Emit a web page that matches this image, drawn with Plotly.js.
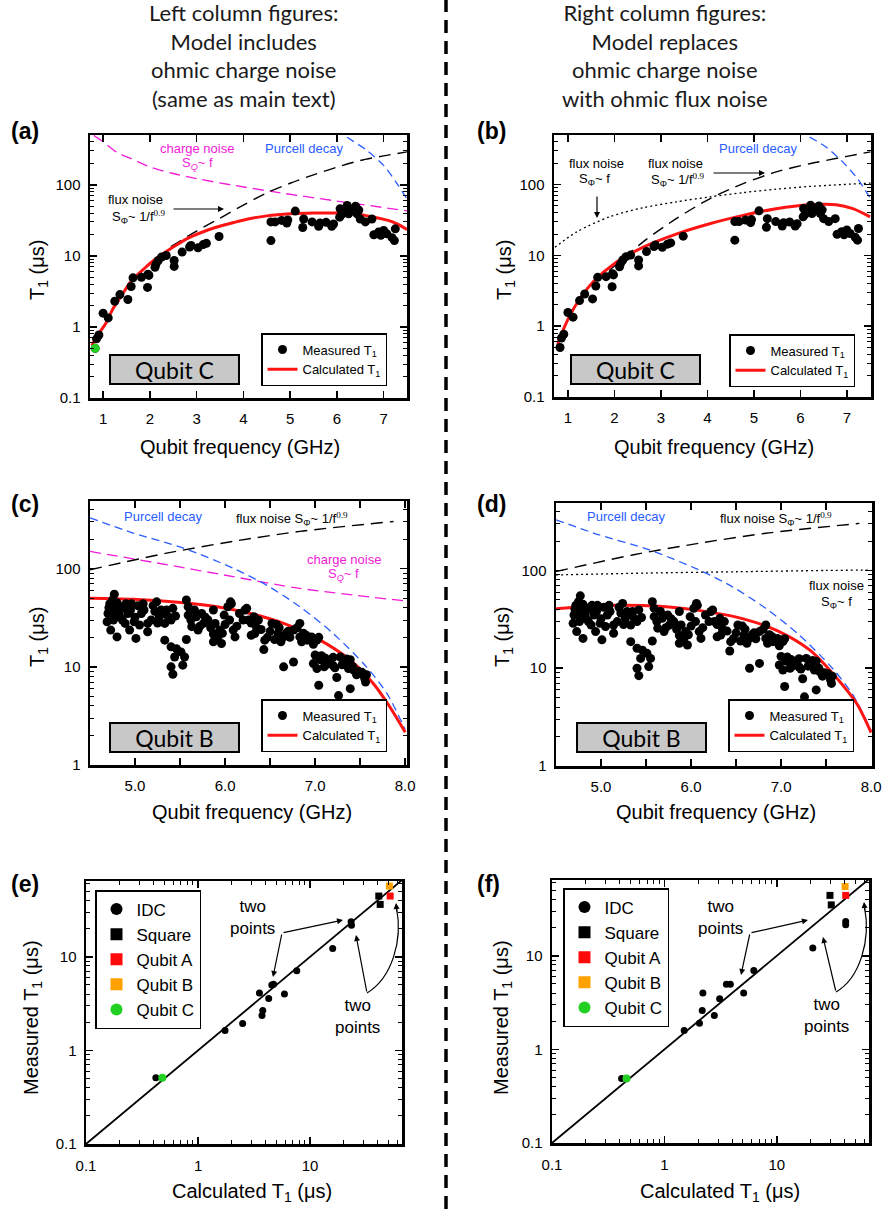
<!DOCTYPE html>
<html>
<head>
<meta charset="utf-8">
<script src="https://cdn.plot.ly/plotly-3.0.1.min.js"></script>
<style>
  html, body { margin: 0; padding: 0; background: #fff; }
  #fig { width: 886px; height: 1209px; }
</style>
</head>
<body>
<div id="fig"></div>
<script>
// ---------- Qubit C: measured T1 vs frequency (GHz, µs) ----------
const qcF = [0.83, 0.86, 0.91, 1.00, 1.11, 1.25, 1.36, 1.53, 1.60, 1.64, 1.82, 1.95, 1.96, 1.98, 2.11, 2.13, 2.18, 2.25, 2.35, 2.52, 2.52, 2.69, 2.85, 2.88, 3.03, 3.14, 3.21, 3.48,
             4.59, 4.59, 4.68, 4.82, 4.93, 4.95, 5.11, 5.27, 5.29, 5.47, 5.61, 5.64, 5.77, 5.89, 5.93, 6.06, 6.07, 6.10, 6.17, 6.22, 6.25, 6.30, 6.40, 6.43, 6.47, 6.50, 6.61, 6.75, 6.79, 6.89, 6.94, 7.00, 7.07, 7.18, 7.23, 7.25];
const qcT = [0.50, 0.68, 0.77, 1.56, 1.34, 2.3, 2.85, 2.43, 3.7, 4.9, 5.0, 3.6, 5.5, 5.3, 6.9, 7.6, 8.6, 9.6, 10.1, 8.6, 7.1, 11.3, 13.3, 14, 13, 14.4, 15, 18.7,
             16.4, 30, 30, 31.5, 29, 32, 42.6, 25, 33, 30, 26, 29, 29.6, 26, 28, 35, 46, 38, 41, 51, 39, 45, 50, 39, 44, 33, 30, 33, 19.8, 21.6, 19.5, 22.8, 20.4, 18, 16.4, 24];

// Model curves, left column (a)
const aCalcF = [0.76, 0.85, 0.95, 1.05, 1.2, 1.4, 1.6, 1.9, 2.1, 2.5, 2.8, 3.1, 3.4, 3.8, 4.1, 4.5, 5.0, 5.5, 6.0, 6.5, 6.8, 7.1, 7.3, 7.5];
const aCalcT = [0.55, 0.70, 0.88, 1.1, 1.75, 2.8, 4.4, 6.8, 8.8, 13.3, 17.5, 21.3, 25, 29.5, 33, 36.5, 39, 40, 40, 38, 35, 31.5, 28, 23.5];
const aFluxF = [2.45, 3.0, 3.5, 4.0, 4.5, 5.0, 5.5, 6.0, 6.5, 7.0, 7.5];
const aFluxT = [13.5, 22.3, 33.8, 51.7, 77, 105, 138, 177, 219, 255, 290];
const aChargeF = [0.8, 1.0, 1.3, 1.6, 2.0, 2.5, 3.0, 3.8, 4.9, 6.0, 7.5];
const aChargeT = [495, 404, 285, 233, 178, 144, 122, 98, 75, 59, 43];
const aPurcellF = [6.0, 6.11, 6.64, 7.0, 7.29, 7.5];
const aPurcellT = [600, 520, 305, 187, 103, 63];

// Model curves, right column (b)
const bCalcF = [0.78, 0.82, 1.04, 1.25, 1.54, 2.04, 2.61, 3.33, 4.05, 4.77, 5.48, 6.2, 6.77, 7.13, 7.5];
const bCalcT = [0.55, 0.66, 1.41, 2.4, 4.2, 8, 13, 20, 28, 36.7, 45.7, 52, 52, 45.7, 35];
const bFluxF = [1.89, 2.61, 3.33, 4.05, 4.77, 5.48, 6.2, 7.0, 7.51];
const bFluxT = [6.1, 15.4, 33, 63, 103, 151, 197, 250, 290];
const bOhmicFluxF = [0.72, 1.18, 1.89, 2.61, 3.33, 4.05, 4.77, 5.48, 6.2, 7.51];
const bOhmicFluxT = [13, 21.3, 35, 47, 57, 67, 77, 86, 94, 105];
const bPurcellF = [5.98, 6.09, 6.55, 6.91, 7.23, 7.51];
const bPurcellT = [600, 520, 340, 209, 121, 63];

// ---------- Qubit B: measured T1 vs frequency ----------
const qbF = [4.77, 4.72, 4.70, 4.69, 4.73, 4.80, 4.77, 4.83, 4.85, 4.90, 4.96, 4.92, 4.89, 4.94, 5.01, 4.99, 5.05, 5.09, 5.07, 5.14, 5.14, 5.24, 5.22, 5.27, 5.29, 5.33, 5.37, 5.42,
             5.33, 5.40, 5.46, 5.44, 5.51, 5.40, 5.42, 5.53, 5.55, 5.57, 5.57, 5.59, 5.59, 5.63, 5.68, 5.74, 5.76, 5.70, 5.81, 5.87, 5.87, 5.89, 5.87, 5.96, 5.94, 5.99, 6.07, 6.03,
             6.09, 6.11, 6.16, 6.22, 6.26, 6.29,
             6.32, 6.37, 6.33, 6.44, 6.43, 6.52, 6.57, 6.59, 6.65, 6.65, 6.76, 6.70, 6.76, 6.83, 6.83, 6.87, 6.91, 6.96, 7.02, 7.00, 6.98, 7.02, 7.06, 7.11, 7.13, 7.17,
             7.04, 7.24, 7.26, 7.28, 7.33, 7.37, 7.39, 7.43, 7.46, 7.52, 7.56, 7.57, 7.39, 7.20, 7.04, 7.07,
             4.75, 4.80, 4.74, 4.78, 4.71, 4.76, 4.82, 4.86, 4.88, 4.95, 5.00, 5.03, 5.10, 5.18, 5.20, 5.25, 5.30, 5.35, 5.40, 5.45, 5.62, 5.66, 5.72, 5.78, 5.84, 5.92, 5.97,
             6.00, 6.05, 6.13, 6.20, 6.24, 6.06, 6.29, 6.35, 6.40, 6.47, 6.50, 6.55, 6.60, 6.62, 6.68, 6.72, 6.80, 6.85, 6.90, 6.98, 7.05, 7.10, 7.15, 7.20, 7.22, 7.30, 7.35,
             7.42, 7.48, 7.52, 7.55];
const qbT = [55, 44, 35, 28.8, 23.7, 20.2, 38, 32.4, 41, 44, 44, 35, 27.7, 23.7, 19.5, 28.8, 26.7, 44, 35, 27.7, 22.8, 46, 36.7, 32.4, 38, 27.7, 32.4, 39.5,
             18.7, 16, 15.3, 12.6, 14.2, 10, 8.4, 10.4, 12.6, 19.0, 48, 41, 33.7, 25.7, 32.4, 35, 27.7, 23.7, 30, 38, 21.6, 27.7, 18, 17.3, 23.7, 33.7, 44, 41,
             23.7, 20.2, 35, 38, 30, 21,
             32.4, 30, 21.9, 18.7, 15, 27.7, 27, 21.9, 20.2, 10, 11.2, 23, 23.7, 27.7, 20.2, 22, 18.7, 20.2, 18.7, 13.2, 10.8, 9.6, 11.8, 12.3, 10.6, 11.8,
             6.5, 7.8, 5.1, 12.6, 11.2, 9.6, 6.0, 9.2, 8.3, 8.5, 7.0, 8.3, 11.8, 10.3, 20, 13,
             48, 45, 38, 32, 40, 30, 36, 30, 40, 38, 32, 42, 38, 30, 42, 28, 35, 38, 30, 33, 30, 38, 26, 32, 25, 20, 22,
             27, 30, 26, 30, 39.5, 46, 28, 25, 24, 20, 23, 19, 25, 18, 22, 20, 25, 18, 21, 17, 12, 10, 11, 12.5, 9.8, 10.5, 12,
             10, 9, 8.8, 7.6];

// Model curves for Qubit B
const cCalcF = [4.5, 4.98, 5.54, 5.91, 6.28, 6.65, 7.02, 7.39, 7.65, 7.83, 8.0];
const cCalcT = [50, 48.8, 45, 41, 35, 27.7, 19.5, 11.7, 6.7, 3.9, 2.16];
const dCalcF = [4.5, 5.1, 5.65, 6.21, 6.58, 6.95, 7.32, 7.61, 7.84, 8.0];
const dCalcT = [40.6, 44, 43, 37.5, 32, 24.4, 15.3, 8.1, 4.36, 2.2];
const qbPurcellF = [4.5, 4.98, 5.54, 6.09, 6.46, 6.83, 7.2, 7.57, 7.8, 8.0];
const qbPurcellT = [330, 231, 162, 101, 68, 41, 21.9, 10, 5.3, 2.3];
const qbFluxF = [4.5, 5.35, 6.09, 6.83, 7.87];
const qbFluxT = [97.5, 144, 190, 240, 303];
const cChargeF = [4.5, 5.35, 6.09, 6.83, 8.0];
const cChargeT = [150, 110, 83, 63, 47];
const dOhmicFluxF = [4.5, 5.5, 6.5, 7.5, 8.0];
const dOhmicFluxT = [90, 94, 97, 100, 101];

// ---------- Measured vs calculated T1 (µs) ----------
const eIdcCalc = [0.42, 1.74, 2.5, 3.53, 3.78, 3.72, 4.27, 4.55, 4.72, 5.9, 7.6, 15.9, 23.2, 23.4];
const eIdcMeas = [0.51, 1.63, 1.94, 4.1, 2.67, 2.36, 3.58, 5.0, 5.1, 4.0, 7.1, 12.3, 23.7, 21.8];
const eSqCalc = [41, 42.2], eSqMeas = [44.6, 36.3];
const eACalc = [51.8], eAMeas = [44.6];
const eBCalc = [51], eBMeas = [57];
const eCCalc = [0.48], eCMeas = [0.51];

const fIdcCalc = [0.416, 1.5, 2.05, 2.2, 2.17, 2.78, 3.1, 3.56, 3.86, 5.07, 6.24, 20.9, 41, 41];
const fIdcMeas = [0.49, 1.59, 1.9, 4.0, 2.6, 2.3, 3.47, 4.98, 4.98, 4.0, 6.97, 12.1, 23.3, 21.5];
const fSqCalc = [29.7, 30.5], fSqMeas = [44.2, 35];
const fACalc = [41], fAMeas = [44.2];
const fBCalc = [40.5], fBMeas = [55];
const fCCalc = [0.46], fCMeas = [0.49];

const unityLine = [0.1, 70];

// ---------- tick labels ----------
const fTicksC = [1, 2, 3, 4, 5, 6, 7];
const fTickTextC = ['1', '2', '3', '4', '5', '6', '7'];
const fTicksB = [5, 5.5, 6, 6.5, 7, 7.5, 8];
const fTickTextB = ['5.0', '', '6.0', '', '7.0', '', '8.0'];

// ---------- styling ----------
const W = 886, H = 1209;
const px = x => x / W, py = y => 1 - y / H;
const FONT = 'Liberation Sans, Arial, sans-serif';
const HUM = 'Lato, Open Sans, sans-serif';
const RED = '#ff1414', BLUE = '#2a5cff', MAG = '#f21bd8';
const DASH_CHARGE = '11px,6px', DASH_FLUX = '12px,7px', DASH_PURCELL = '8px,5px', DOT = '2px,3px';

function curve(x, y, xa, ya, color, width, dash, legend) {
  return { type: 'scatter', mode: 'lines', x, y, xaxis: xa, yaxis: ya, legend,
           line: { color, width, dash, shape: 'spline', smoothing: 0.8 },
           showlegend: false, hoverinfo: 'skip' };
}
function measured(x, y, xa, ya, legend) {
  return { type: 'scatter', mode: 'markers', x, y, xaxis: xa, yaxis: ya, legend,
           name: 'Measured T<sub>1</sub>', legendrank: 1,
           marker: { color: 'black', size: 9 }, hoverinfo: 'skip' };
}
function calculated(x, y, xa, ya, legend) {
  return { type: 'scatter', mode: 'lines', x, y, xaxis: xa, yaxis: ya, legend,
           name: 'Calculated T<sub>1</sub>', legendrank: 2,
           line: { color: RED, width: 3, shape: 'spline', smoothing: 0.8 }, hoverinfo: 'skip' };
}
function pts(x, y, xa, ya, legend, name, symbol, color, size) {
  return { type: 'scatter', mode: 'markers', x, y, xaxis: xa, yaxis: ya, legend, name,
           marker: { symbol, color, size }, hoverinfo: 'skip' };
}

const traces = [
  // (a)
  curve(aChargeF, aChargeT, 'x', 'y', MAG, 1.3, DASH_CHARGE, 'legend'),
  curve(aPurcellF, aPurcellT, 'x', 'y', BLUE, 1.3, DASH_PURCELL, 'legend'),
  curve(aFluxF, aFluxT, 'x', 'y', 'black', 1.4, DASH_FLUX, 'legend'),
  calculated(aCalcF, aCalcT, 'x', 'y', 'legend'),
  measured(qcF, qcT, 'x', 'y', 'legend'),
  { type: 'scatter', mode: 'markers', x: [qcF[0]], y: [qcT[0]], xaxis: 'x', yaxis: 'y',
    marker: { color: '#22d022', size: 9 }, showlegend: false, hoverinfo: 'skip' },
  // (b)
  curve(bOhmicFluxF, bOhmicFluxT, 'x2', 'y2', 'black', 1.3, DOT, 'legend2'),
  curve(bPurcellF, bPurcellT, 'x2', 'y2', BLUE, 1.3, DASH_PURCELL, 'legend2'),
  curve(bFluxF, bFluxT, 'x2', 'y2', 'black', 1.4, DASH_FLUX, 'legend2'),
  calculated(bCalcF, bCalcT, 'x2', 'y2', 'legend2'),
  measured(qcF, qcT, 'x2', 'y2', 'legend2'),
  // (c)
  curve(cChargeF, cChargeT, 'x3', 'y3', MAG, 1.3, DASH_CHARGE, 'legend3'),
  curve(qbPurcellF, qbPurcellT, 'x3', 'y3', BLUE, 1.3, DASH_PURCELL, 'legend3'),
  curve(qbFluxF, qbFluxT, 'x3', 'y3', 'black', 1.4, DASH_FLUX, 'legend3'),
  calculated(cCalcF, cCalcT, 'x3', 'y3', 'legend3'),
  measured(qbF, qbT, 'x3', 'y3', 'legend3'),
  // (d)
  curve(dOhmicFluxF, dOhmicFluxT, 'x4', 'y4', 'black', 1.3, DOT, 'legend4'),
  curve(qbPurcellF, qbPurcellT, 'x4', 'y4', BLUE, 1.3, DASH_PURCELL, 'legend4'),
  curve(qbFluxF, qbFluxT, 'x4', 'y4', 'black', 1.4, DASH_FLUX, 'legend4'),
  calculated(dCalcF, dCalcT, 'x4', 'y4', 'legend4'),
  measured(qbF, qbT, 'x4', 'y4', 'legend4'),
  // (e)
  { type: 'scatter', mode: 'lines', x: unityLine, y: unityLine, xaxis: 'x5', yaxis: 'y5', legend: 'legend5',
    line: { color: 'black', width: 1.8 }, showlegend: false, hoverinfo: 'skip' },
  pts(eIdcCalc, eIdcMeas, 'x5', 'y5', 'legend5', 'IDC', 'circle', 'black', 7),
  pts(eSqCalc, eSqMeas, 'x5', 'y5', 'legend5', 'Square', 'square', 'black', 7),
  pts(eACalc, eAMeas, 'x5', 'y5', 'legend5', 'Qubit A', 'square', '#ff0a0a', 7),
  pts(eBCalc, eBMeas, 'x5', 'y5', 'legend5', 'Qubit B', 'square', '#ffa200', 7),
  pts(eCCalc, eCMeas, 'x5', 'y5', 'legend5', 'Qubit C', 'circle', '#22d022', 8),
  // (f)
  { type: 'scatter', mode: 'lines', x: unityLine, y: unityLine, xaxis: 'x6', yaxis: 'y6', legend: 'legend6',
    line: { color: 'black', width: 1.8 }, showlegend: false, hoverinfo: 'skip' },
  pts(fIdcCalc, fIdcMeas, 'x6', 'y6', 'legend6', 'IDC', 'circle', 'black', 7),
  pts(fSqCalc, fSqMeas, 'x6', 'y6', 'legend6', 'Square', 'square', 'black', 7),
  pts(fACalc, fAMeas, 'x6', 'y6', 'legend6', 'Qubit A', 'square', '#ff0a0a', 7),
  pts(fBCalc, fBMeas, 'x6', 'y6', 'legend6', 'Qubit B', 'square', '#ffa200', 7),
  pts(fCCalc, fCMeas, 'x6', 'y6', 'legend6', 'Qubit C', 'circle', '#22d022', 8)
];

// ---------- axes ----------
const axBase = {
  showline: true, linecolor: 'black', linewidth: 2.5, mirror: 'allticks',
  ticks: 'inside', ticklen: 7, tickwidth: 1.5, tickcolor: 'black',
  showgrid: false, zeroline: false, fixedrange: true,
  tickfont: { family: FONT, size: 15, color: 'black' }
};
const minorLogTicks = { dtick: 'D1', ticks: 'inside', ticklen: 4, tickwidth: 1, tickcolor: 'black', showgrid: false };

function xLin(l, r, anchor, range, vals, text) {
  return Object.assign({}, axBase, { domain: [px(l), px(r)], anchor, range, tickmode: 'array',
    tickvals: vals, ticktext: text, ticklabelstandoff: 5 });
}
function yLog(top, bottom, anchor, range) {
  return Object.assign({}, axBase, { type: 'log', domain: [py(bottom), py(top)], anchor, range,
    tickmode: 'linear', tick0: 0, dtick: 1, minor: minorLogTicks, ticklabelstandoff: 4 });
}
function xLog(l, r, anchor, range) {
  return Object.assign({}, axBase, { type: 'log', domain: [px(l), px(r)], anchor, range,
    tickmode: 'linear', tick0: 0, dtick: 1, minor: minorLogTicks, ticklabelstandoff: 6 });
}

// ---------- text helpers ----------
function txt(text, x, y, size, color, extra) {
  return Object.assign({ text, x: px(x), y: py(y), xref: 'paper', yref: 'paper', showarrow: false,
    xanchor: 'center', yanchor: 'middle', font: { family: FONT, size, color: color || 'black' } }, extra || {});
}
function arrow(hx, hy, tx, ty) {
  return { text: '', x: px(hx), y: py(hy), xref: 'paper', yref: 'paper', axref: 'pixel', ayref: 'pixel',
    ax: tx - hx, ay: ty - hy, showarrow: true, arrowhead: 2, arrowsize: 1, arrowwidth: 1.2,
    arrowcolor: 'black', standoff: 0, startstandoff: 0 };
}
function qubitBox(label, cx, cy) {
  return { text: label, x: px(cx), y: py(cy), xref: 'paper', yref: 'paper', showarrow: false,
    xanchor: 'center', yanchor: 'middle', width: 125, height: 25, bgcolor: '#c8c8c8',
    bordercolor: 'black', borderwidth: 2, borderpad: 1, font: { family: HUM, size: 23, color: 'black' } };
}
const sup09 = '<sup><span style="font-family:Liberation Serif, Times New Roman, serif">0.9</span></sup>';
const SPHI = 'S<sub>Φ</sub>';
const SQ = 'S<sub><i>Q</i></sub>';
const T1 = 'T<sub>1</sub> (μs)';
const HEAD = { font: { family: HUM, size: 22, color: '#1a1a1a' } };

const annotations = [
  // column headers
  txt('Left column figures:<br>Model includes<br>ohmic charge noise<br>(same as main text)', 243, 56, 22, '#1a1a1a', HEAD),
  txt('Right column figures:<br>Model replaces<br>ohmic charge noise<br>with ohmic flux noise', 665, 56, 22, '#1a1a1a', HEAD),
  // panel letters
  txt('<b>(a)</b>', 25, 131, 23), txt('<b>(b)</b>', 491, 131, 23),
  txt('<b>(c)</b>', 25, 504, 23), txt('<b>(d)</b>', 491, 504, 23),
  txt('<b>(e)</b>', 25, 884, 23), txt('<b>(f)</b>', 488, 884, 23),
  // axis titles
  txt('Qubit frequency (GHz)', 240, 447, 20), txt(T1, 38, 270, 20, 'black', { textangle: -90 }),
  txt('Qubit frequency (GHz)', 714, 447, 20), txt(T1, 505, 270, 20, 'black', { textangle: -90 }),
  txt('Qubit frequency (GHz)', 252, 812, 20), txt(T1, 38, 637, 20, 'black', { textangle: -90 }),
  txt('Qubit frequency (GHz)', 716, 812, 20), txt(T1, 503, 637, 20, 'black', { textangle: -90 }),
  txt('Calculated T<sub>1</sub> (μs)', 252, 1192, 20), txt('Measured T<sub>1</sub> (μs)', 33, 1018, 20, 'black', { textangle: -90 }),
  txt('Calculated T<sub>1</sub> (μs)', 720, 1192, 20), txt('Measured T<sub>1</sub> (μs)', 503, 1018, 20, 'black', { textangle: -90 }),
  // (a) labels
  txt('charge noise', 197, 148, 13, MAG), txt(SQ + '~ f', 197, 163, 13, MAG),
  txt('Purcell decay', 304, 148, 13, BLUE),
  txt('flux noise', 135, 199, 13), txt(SPHI + '~ 1/f' + sup09, 138, 217, 13),
  arrow(224, 209, 172, 209),
  // (b) labels
  txt('Purcell decay', 758, 149, 13, BLUE),
  txt('flux noise', 596, 163, 13), txt(SPHI + '~ f', 594, 180, 13),
  arrow(597, 218, 597, 195),
  txt('flux noise', 675, 163, 13), txt(SPHI + '~ 1/f' + sup09, 677, 180, 13),
  arrow(765, 173, 712, 173),
  // (c) labels
  txt('Purcell decay', 163, 517, 13, BLUE),
  txt('flux noise ' + SPHI + '~ 1/f' + sup09, 292, 519, 13),
  txt('charge noise', 344, 560, 13, MAG), txt(SQ + '~ f', 343, 575, 13, MAG),
  // (d) labels
  txt('Purcell decay', 626, 517, 13, BLUE),
  txt('flux noise ' + SPHI + '~ 1/f' + sup09, 776, 519, 13),
  txt('flux noise', 866, 585, 13, 'black', { xanchor: 'right' }), txt(SPHI + '~ f', 836, 603, 13),
  // qubit name boxes
  qubitBox('Qubit C', 174.5, 369.5), qubitBox('Qubit C', 635.5, 369.5),
  qubitBox('Qubit B', 174.5, 737), qubitBox('Qubit B', 641.5, 737),
  // (e) callouts
  txt('two<br>points', 252, 918, 17), txt('two<br>points', 357, 1016, 17),
  arrow(343, 920, 282, 933), arrow(273, 977, 282, 933), arrow(356, 935, 367, 993),
  arrow(396, 903, 397, 913),
  // (f) callouts
  txt('two<br>points', 720, 917, 17), txt('two<br>points', 826, 1015, 17),
  arrow(808, 920, 750, 933), arrow(741, 975, 750, 933), arrow(823, 937, 836, 992),
  arrow(864, 902, 865, 912)
];

function pathPx(cmds) {
  // cmds: array of [letter, x1, y1, ...] in pixels -> paper-space path string
  return cmds.map(c => c[0] + ' ' + c.slice(1).map((v, i) => (i % 2 === 0 ? px(v) : py(v)).toFixed(5)).join(',')).join(' ');
}

const shapes = [
  // column divider
  { type: 'line', xref: 'paper', yref: 'paper', x0: px(446), x1: px(446), y0: 0, y1: 1,
    line: { color: 'black', width: 3.5, dash: '13px,8px' } },
  // curved callout arrows
  { type: 'path', xref: 'paper', yref: 'paper', line: { color: 'black', width: 1.2 },
    path: pathPx([['M', 367, 993], ['C', 392, 978, 403, 940, 396.5, 908]]) },
  { type: 'path', xref: 'paper', yref: 'paper', line: { color: 'black', width: 1.2 },
    path: pathPx([['M', 836, 992], ['C', 860, 978, 871, 940, 864.5, 907]]) }
];

const legBase = { bgcolor: 'white', bordercolor: 'black', borderwidth: 1.5,
  font: { family: FONT, size: 13, color: 'black' }, xanchor: 'right', yanchor: 'bottom',
  tracegroupgap: 0, itemsizing: 'trace', traceorder: 'normal' };
const legBig = Object.assign({}, legBase, { font: { family: FONT, size: 17, color: 'black' },
  xanchor: 'left', yanchor: 'top', itemsizing: 'constant' });

const layout = {
  width: W, height: H, margin: { l: 0, r: 0, t: 0, b: 0 },
  paper_bgcolor: 'white', plot_bgcolor: 'white', showlegend: true, hovermode: false,
  font: { family: FONT, color: 'black' },
  xaxis:  xLin(90, 407, 'y', [0.72, 7.5], fTicksC, fTickTextC),
  yaxis:  yLog(135, 398, 'x', [-1, 2.70]),
  xaxis2: xLin(554, 871, 'y2', [0.70, 7.52], fTicksC, fTickTextC),
  yaxis2: yLog(135, 397, 'x2', [-1, 2.70]),
  xaxis3: xLin(90, 407, 'y3', [4.5, 8.02], fTicksB, fTickTextB),
  yaxis3: yLog(501, 765, 'x3', [0, 2.69]),
  xaxis4: xLin(556, 872, 'y4', [4.5, 8.01], fTicksB, fTickTextB),
  yaxis4: yLog(503, 766, 'x4', [0, 2.69]),
  xaxis5: xLog(86, 402, 'y5', [-1, 1.82]),
  yaxis5: yLog(881, 1144, 'x5', [-1, 1.81]),
  xaxis6: xLog(552, 869, 'y6', [-1, 1.82]),
  yaxis6: yLog(880, 1143, 'x6', [-1, 1.81]),
  legend:  Object.assign({}, legBase, { x: px(387), y: py(386) }),
  legend2: Object.assign({}, legBase, { x: px(855), y: py(387) }),
  legend3: Object.assign({}, legBase, { x: px(387), y: py(752) }),
  legend4: Object.assign({}, legBase, { x: px(854), y: py(752) }),
  legend5: Object.assign({}, legBig, { x: px(95), y: py(890) }),
  legend6: Object.assign({}, legBig, { x: px(563), y: py(888) }),
  annotations, shapes
};

Plotly.newPlot('fig', traces, layout, { displayModeBar: false, staticPlot: true });
</script>
</body>
</html>
